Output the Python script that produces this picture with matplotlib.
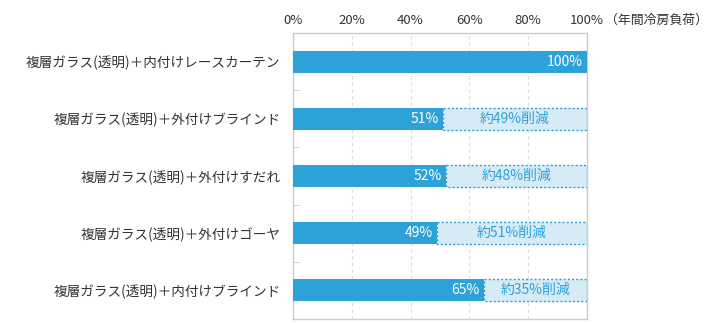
import matplotlib
matplotlib.use('Agg')
import matplotlib.pyplot as plt
import numpy as np

plt.rcParams['font.family'] = ['Noto Sans CJK JP', 'DejaVu Sans']

categories = ['複層ガラス(透明)＋内付けレースカーテン',
              '複層ガラス(透明)＋外付けブラインド',
              '複層ガラス(透明)＋外付けすだれ',
              '複層ガラス(透明)＋外付けゴーヤ',
              '複層ガラス(透明)＋内付けブラインド']
values = [100, 51, 52, 49, 65]
reductions = [0, 49, 48, 51, 35]
xticks = [0, 20, 40, 60, 80, 100]

blue = '#2ca2d9'
light = '#d7ebf7'
grey = '#cccccc'
txt = '#333333'

fig = plt.figure(figsize=(7.2, 3.23), dpi=100)
ax = fig.add_axes([293 / 720, 4 / 323, 294 / 720, 286 / 323])

y = np.arange(len(categories))
h = 0.385
ax.barh(y, values, height=h, color=blue, zorder=3)
for i, (v, r) in enumerate(zip(values, reductions)):
    ax.text(v - 1.5, i, f'{v}%', color='white', ha='right', va='center',
            fontsize=10, zorder=5)
    if r > 0:
        ax.barh(i, r, left=v, height=h, color=light, edgecolor=blue,
                linestyle=(0, (1.5, 1.5)), linewidth=1, zorder=3)
        ax.text(v + r / 2, i, f'約{r}%削減', color=blue, ha='center',
                va='center', fontsize=10, zorder=5)

ax.set_xlim(0, 100)
ax.set_ylim(len(categories) - 0.5, -0.5)
ax.set_xticks(xticks)
ax.set_xticklabels([f'{t}%' for t in xticks], fontsize=9.5, color=txt)
ax.xaxis.tick_top()
ax.tick_params(axis='x', length=0, pad=4)
ax.set_yticks(y)
ax.set_yticklabels(categories, fontsize=9.8, color=txt)
ax.tick_params(axis='y', length=0, pad=9)
ax.set_yticks(np.arange(0.5, len(categories) - 1, 1), minor=True)
ax.tick_params(axis='y', which='minor', length=4, direction='in', color=grey)
ax.grid(axis='x', color='#dddddd', linestyle=(0, (3, 3)), linewidth=0.8, zorder=0)
for s in ax.spines.values():
    s.set_color(grey)
    s.set_linewidth(1)

# unit note right of the "100%" tick label
ax.text(1 + 18 / 294, 1 + 13 / 286, '（年間冷房負荷）', transform=ax.transAxes,
        fontsize=9.3, color=txt, ha='left', va='center')

fig.savefig('out.png', dpi=100)
